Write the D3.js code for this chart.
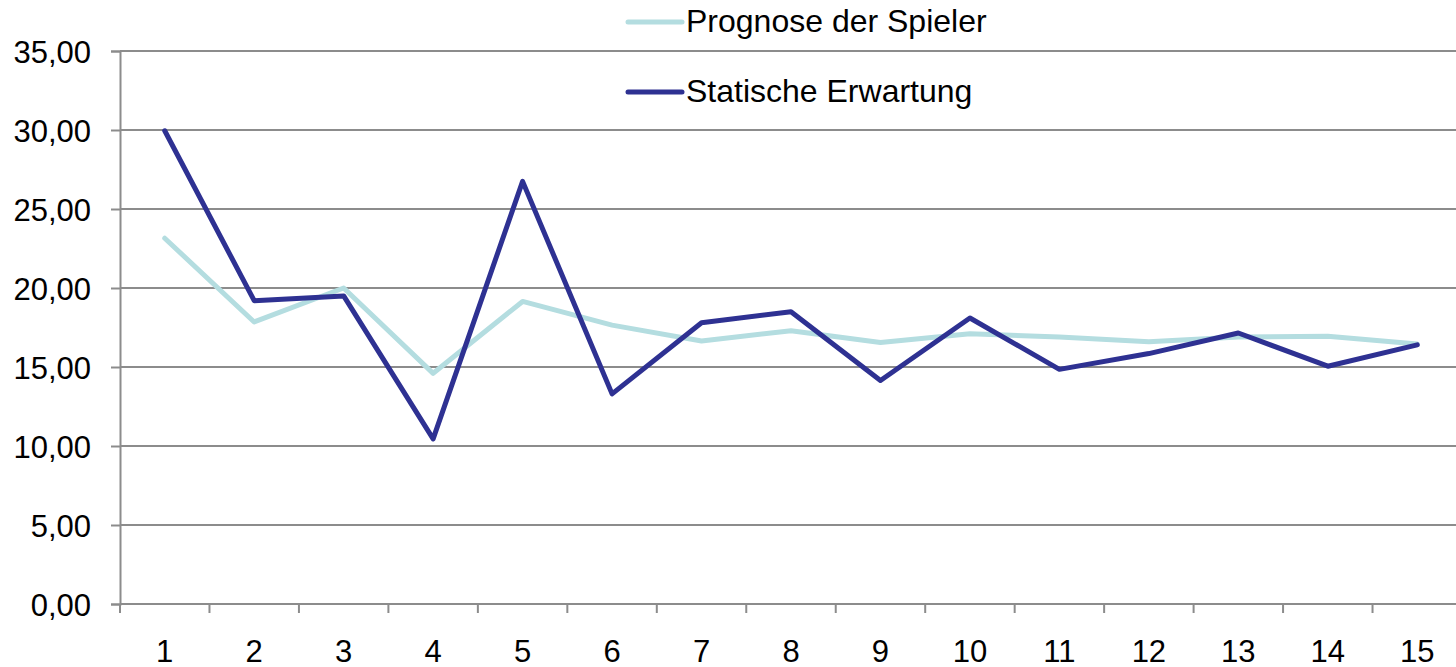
<!DOCTYPE html>
<html>
<head>
<meta charset="utf-8">
<script src="https://cdn.jsdelivr.net/npm/d3@7"></script>
<style>
  html, body { margin: 0; padding: 0; background: #fff; overflow: hidden; }
  svg { display: block; font-family: "Liberation Sans", Arial, sans-serif; }
</style>
</head>
<body>
<div id="chart"></div>
<script>
const categories = ['1', '2', '3', '4', '5', '6', '7', '8', '9', '10', '11', '12', '13', '14', '15'];
const prognoseSpieler = [23.15, 17.85, 20.0, 14.6, 19.15, 17.65, 16.65, 17.3, 16.55, 17.1, 16.9, 16.6, 16.9, 16.95, 16.45];
const statischeErwartung = [29.95, 19.2, 19.5, 10.45, 26.75, 13.3, 17.8, 18.5, 14.15, 18.1, 14.85, 15.85, 17.15, 15.05, 16.4];
const yTicks = [0, 5, 10, 15, 20, 25, 30, 35];

const series = [
  { name: 'Prognose der Spieler', values: prognoseSpieler, color: '#b4dde0' },
  { name: 'Statische Erwartung', values: statischeErwartung, color: '#2e3192' },
];

const width = 1456;
const height = 667;
const margin = { top: 51, right: -6, bottom: 63, left: 120 };
const innerWidth = width - margin.left - margin.right;
const innerHeight = height - margin.top - margin.bottom;

const svg = d3.select('#chart')
  .append('svg')
  .attr('width', width)
  .attr('height', height);

const g = svg.append('g')
  .attr('transform', `translate(${margin.left}, ${margin.top})`);

const x = d3.scaleBand()
  .domain(categories)
  .range([0, innerWidth]);

const y = d3.scaleLinear()
  .domain([0, 35])
  .range([innerHeight, 0]);

const fmt = v => d3.format('.2f')(v).replace('.', ',');

// horizontal gridlines
g.append('g')
  .selectAll('line')
  .data(yTicks)
  .join('line')
  .attr('x1', 0)
  .attr('x2', innerWidth)
  .attr('y1', d => y(d))
  .attr('y2', d => y(d))
  .attr('stroke', '#8c8c8c')
  .attr('stroke-width', 2);

// y axis
const yAxis = g.append('g')
  .call(d3.axisLeft(y).tickValues(yTicks).tickSize(9).tickPadding(20).tickFormat(fmt));
yAxis.select('.domain').attr('stroke', '#8c8c8c').attr('stroke-width', 2);
yAxis.selectAll('.tick line').attr('stroke', '#8c8c8c').attr('stroke-width', 2);
yAxis.selectAll('.tick text')
  .attr('fill', '#000')
  .attr('font-size', 31)
  .attr('dy', '0.36em');

// x axis tick marks at band boundaries
g.append('g')
  .attr('transform', `translate(0, ${innerHeight})`)
  .selectAll('line')
  .data(categories)
  .join('line')
  .attr('x1', d => x(d))
  .attr('x2', d => x(d))
  .attr('y1', 0)
  .attr('y2', 9)
  .attr('stroke', '#8c8c8c')
  .attr('stroke-width', 2);

// x axis labels
const xAxis = g.append('g')
  .attr('transform', `translate(0, ${innerHeight})`)
  .call(d3.axisBottom(x).tickSize(0).tickPadding(36));
xAxis.select('.domain').remove();
xAxis.selectAll('.tick text')
  .attr('fill', '#000')
  .attr('font-size', 31);

// lines
const line = d3.line()
  .x((d, i) => x(categories[i]) + x.bandwidth() / 2)
  .y(d => y(d));

g.selectAll('.series')
  .data(series)
  .join('path')
  .attr('class', 'series')
  .attr('fill', 'none')
  .attr('stroke', d => d.color)
  .attr('stroke-width', 5)
  .attr('stroke-linejoin', 'round')
  .attr('stroke-linecap', 'round')
  .attr('d', d => line(d.values));

// legend
const legend = svg.append('g')
  .attr('transform', 'translate(628, 22)');

const items = legend.selectAll('g')
  .data(series)
  .join('g')
  .attr('transform', (d, i) => `translate(0, ${i * 70})`);

items.append('line')
  .attr('x1', 0)
  .attr('x2', 54)
  .attr('stroke', d => d.color)
  .attr('stroke-width', 5)
  .attr('stroke-linecap', 'round');

items.append('text')
  .attr('x', 58)
  .attr('dy', '0.3em')
  .attr('font-size', 32)
  .attr('fill', '#000')
  .text(d => d.name);
</script>
</body>
</html>
